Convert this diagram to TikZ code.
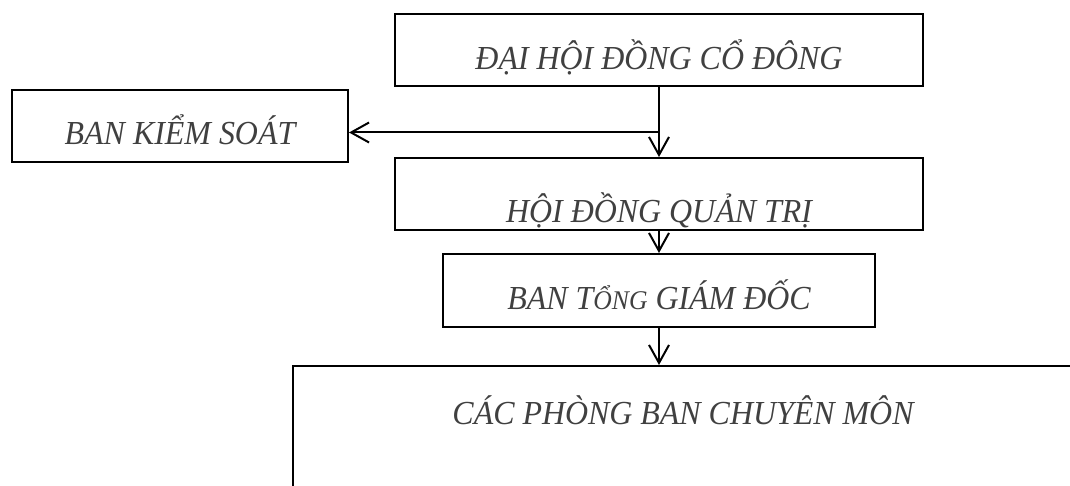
\documentclass[tikz,border=0pt]{standalone}
\usepackage{fontspec}
\setmainfont{Liberation Serif}
\newfontfamily\orgfont[FakeStretch=0.95]{Liberation Serif}
\usetikzlibrary{arrows.meta,calc}
\tikzset{
  orgbox/.style = {rectangle, draw=black, line width=1pt, inner sep=0pt, text=black!75, font=\orgfont\itshape\fontsize{16.8}{20}\selectfont},
  widebox/.style = {orgbox, minimum width=264pt},
  orgline/.style = {line width=1pt, -{Straight Barb[length=9pt,width=10pt]}},
}

\begin{document}
\begin{tikzpicture}[x=0.5pt, y=-0.5pt]
\useasboundingbox (0,0) rectangle (1070,486);
\clip (0,0) rectangle (1070,486);
\node [widebox, text height=28pt, text depth=8pt] (dhd) at (659,50) {ĐẠI HỘI ĐỒNG CỔ ĐÔNG};
\node [orgbox, minimum width=168pt, text height=27.5pt, text depth=8.5pt] (bks) at (180,126) {BAN KIỂM SOÁT};
\node [widebox, text height=32.5pt, text depth=3.5pt] (hdqt) at (659,194) {HỘI ĐỒNG QUẢN TRỊ};
\node [orgbox, minimum width=216pt, text height=27.5pt, text depth=9pt] (btgd) at (659,290.5) {BAN T{\fontsize{13.5}{16}\selectfont ỔNG} GIÁM ĐỐC};
\node [orgbox, anchor=north west, minimum width=390pt, text height=29pt, text depth=45pt] (cpb) at (292,365) {CÁC PHÒNG BAN CHUYÊN MÔN};
\coordinate (nhanh) at ($(dhd.south)!0.65!(hdqt.north)$);
\draw [orgline] (dhd) -- (hdqt);
\draw [orgline] (nhanh) -- (nhanh -| bks.east);
\draw [orgline] (hdqt) -- (btgd);
\draw [orgline] (btgd.south) -- (btgd.south |- cpb.north);
\end{tikzpicture}
\end{document}
